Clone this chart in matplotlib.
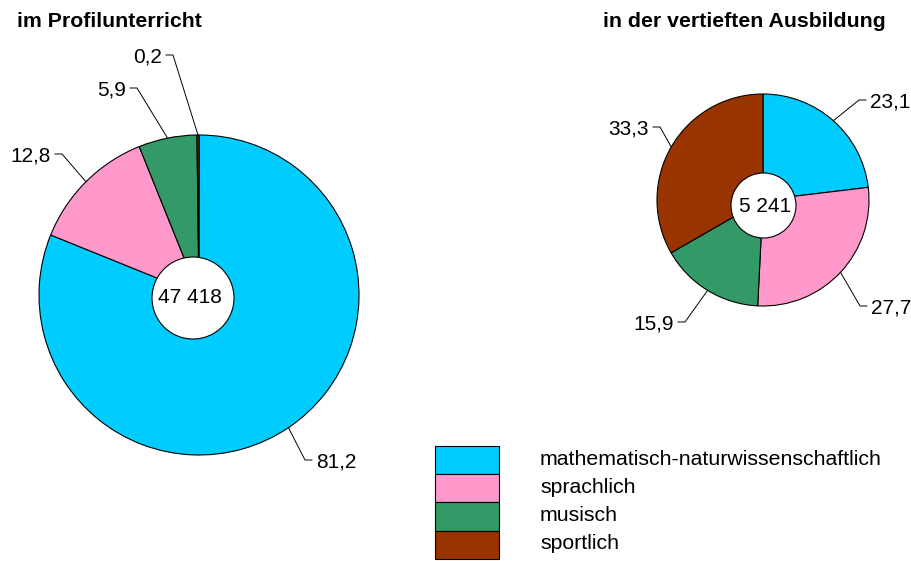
import matplotlib
matplotlib.use("Agg")
import matplotlib.pyplot as plt
from matplotlib.patches import Circle, Rectangle
import numpy as np

# ---------------- data ----------------
categories = ["mathematisch-naturwissenschaftlich", "sprachlich", "musisch", "sportlich"]
profil_values = [81.2, 12.8, 5.9, 0.2]
vertieft_values = [23.1, 27.7, 15.9, 33.3]
profil_labels = ["81,2", "12,8", "5,9", "0,2"]
vertieft_labels = ["23,1", "27,7", "15,9", "33,3"]
profil_total = "47 418"
vertieft_total = "5 241"
titles = ["im Profilunterricht", "in der vertieften Ausbildung"]
colors = ["#00CCFF", "#FF99CC", "#339966", "#993300"]

# ---------------- layout ----------------
W, H = 911, 561
plt.rcParams['font.family'] = ['Liberation Sans', 'DejaVu Sans']
FS = 15
FS_WIDE = 15.35

fig = plt.figure(figsize=(W / 100, H / 100), dpi=100)
ax = fig.add_axes([0, 0, 1, 1])


def Y(y):
    return H - y


def draw_pie(values, labels, total, center, radius, hole_center, hole_r,
             total_pos, elbows):
    cx, cy = center[0], Y(center[1])
    ax.pie(values, colors=colors, startangle=90, counterclock=False,
           center=(cx, cy), radius=radius, normalize=True,
           wedgeprops=dict(edgecolor='black', linewidth=0.8))
    ax.add_patch(Circle((hole_center[0], Y(hole_center[1])), hole_r,
                        facecolor='white', edgecolor='black', linewidth=0.8,
                        zorder=5))
    ax.text(total_pos[0], Y(total_pos[1]), total, ha='center', va='baseline',
            fontsize=FS, zorder=6)
    vals = np.asarray(values, dtype=float)
    frac = vals / vals.sum()
    cum = np.cumsum(frac) - frac / 2
    for k, (lab, f) in enumerate(zip(labels, cum)):
        ang = np.deg2rad(90 - 360 * f)
        px, py = cx + radius * np.cos(ang), cy + radius * np.sin(ang)
        ex, ey, side = elbows[k]
        tail = 7 if side == 'L' else -7
        xs = [px, ex, ex + tail]
        ys = [py, Y(ey), Y(ey)]
        ax.plot(xs, ys, color='black', linewidth=0.7, zorder=4)
        tx = ex + tail + (4 if side == 'L' else -4)
        ax.text(tx, Y(ey + 7.5), lab, ha='left' if side == 'L' else 'right',
                va='baseline', fontsize=FS)


draw_pie(profil_values, profil_labels, profil_total,
         center=(199, 295), radius=160, hole_center=(193, 298), hole_r=41,
         total_pos=(190, 302.5),
         elbows=[(305, 460, 'L'), (62, 154, 'R'), (137, 88, 'R'), (173, 55, 'R')])

draw_pie(vertieft_values, vertieft_labels, vertieft_total,
         center=(763, 200), radius=106, hole_center=(763.5, 205.5), hole_r=32.5,
         total_pos=(765.5, 211.5),
         elbows=[(859, 100, 'L'), (860, 306, 'L'), (685, 322, 'R'), (660, 127, 'R')])

# titles
ax.text(17, Y(27), titles[0], fontsize=FS_WIDE, fontweight='bold', ha='left', va='baseline')
ax.text(603, Y(27), titles[1], fontsize=FS_WIDE, fontweight='bold', ha='left', va='baseline')

# legend
box_top, box_h = 446, 28.2
for i, (cat, col) in enumerate(zip(categories, colors)):
    top = box_top + i * box_h
    ax.add_patch(Rectangle((435, Y(top + box_h)), 64, box_h, facecolor=col,
                           edgecolor='black', linewidth=0.8))
    ax.text(540, Y(top + box_h / 2 + 4.5), cat, fontsize=FS_WIDE, ha='left', va='baseline')

ax.set_xlim(0, W)
ax.set_ylim(0, H)
ax.set_aspect('equal')
ax.axis('off')

fig.savefig("out.png", dpi=100)
